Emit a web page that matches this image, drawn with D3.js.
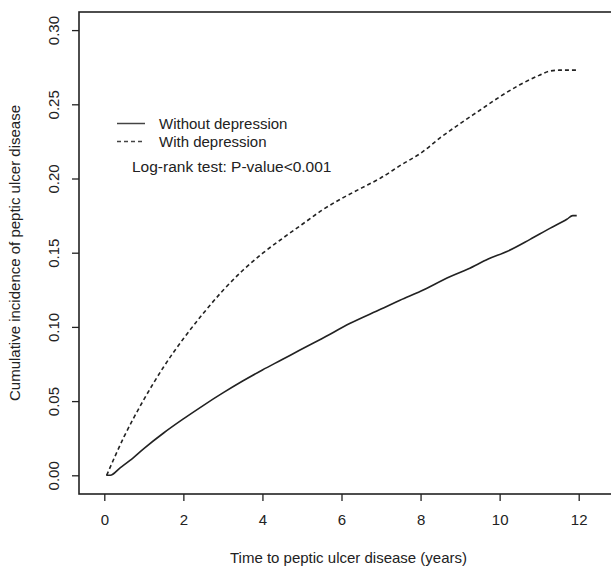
<!DOCTYPE html>
<html>
<head>
<meta charset="utf-8">
<script src="https://cdn.jsdelivr.net/npm/d3@7"></script>
<style>
  html, body { margin: 0; padding: 0; background: #fff; }
  svg { display: block; }
  text { font-family: "Liberation Sans", Arial, sans-serif; fill: #222; }
</style>
</head>
<body>
<svg id="chart" width="611" height="568"></svg>
<script>
// ---- data ----
const timeWithout = [0.05, 0.15, 0.4, 0.65, 1.0, 1.5, 2.0, 2.5, 3.0, 3.5, 4.0, 4.5, 4.95, 5.5, 6.22, 7.0, 7.48, 8.0, 8.74, 9.2, 9.71, 10.2, 10.77, 11.27, 11.7, 11.85, 11.95];
const valuesWithout = [0.000, 0.000, 0.005, 0.010, 0.018, 0.0285, 0.038, 0.047, 0.0555, 0.0635, 0.071, 0.078, 0.0844, 0.092, 0.1024, 0.112, 0.118, 0.124, 0.1338, 0.139, 0.1457, 0.151, 0.159, 0.1664, 0.1725, 0.175, 0.175];

const timeWith = [0.06, 0.5, 1.0, 1.5, 2.0, 2.5, 3.0, 3.5, 4.0, 4.5, 5.0, 5.5, 6.0, 6.5, 7.0, 7.5, 8.0, 8.5, 9.0, 9.5, 10.0, 10.5, 11.0, 11.27, 11.5, 11.95];
const valuesWith = [0.000, 0.026, 0.051, 0.073, 0.092, 0.109, 0.1245, 0.138, 0.1495, 0.1595, 0.169, 0.1785, 0.1865, 0.1935, 0.2005, 0.209, 0.217, 0.2275, 0.237, 0.246, 0.255, 0.263, 0.2695, 0.2724, 0.273, 0.273];

const xTicks = [0, 2, 4, 6, 8, 10, 12];
const yTicks = [0.00, 0.05, 0.10, 0.15, 0.20, 0.25, 0.30];
const yTickLabels = ["0.00", "0.05", "0.10", "0.15", "0.20", "0.25", "0.30"];
const seriesNames = ["Without depression", "With depression"];
const xTitle = "Time to peptic ulcer disease (years)";
const yTitle = "Cumulative incidence of peptic ulcer disease";
const testLabel = "Log-rank test: P-value<0.001";

// ---- layout ----
const svg = d3.select("#chart");
const box = { left: 79, top: 12, right: 618, bottom: 494 };
const x = d3.scaleLinear().domain([0, 12]).range([104.3, 578.7]);
const y = d3.scaleLinear().domain([0, 0.30]).range([475.3, 30.1]);
const ink = "#222";
const fs = 15;

// frame
svg.append("rect")
  .attr("x", box.left).attr("y", box.top)
  .attr("width", box.right - box.left).attr("height", box.bottom - box.top)
  .attr("fill", "none").attr("stroke", ink).attr("stroke-width", 1.6);

// x axis
const xAxis = d3.axisBottom(x).tickValues(xTicks).tickSize(7).tickPadding(13).tickFormat(d3.format("d"));
const gx = svg.append("g").attr("transform", `translate(0,${box.bottom})`).call(xAxis);
gx.select(".domain").remove();
gx.selectAll("line").attr("stroke", ink).attr("stroke-width", 1.3);
gx.selectAll("text").attr("font-size", fs).style("font-family", "Liberation Sans, Arial, sans-serif").attr("fill", ink);

// y axis
const yAxis = d3.axisLeft(y).tickValues(yTicks).tickSize(7).tickFormat((d, i) => yTickLabels[i]);
const gy = svg.append("g").attr("transform", `translate(${box.left},0)`).call(yAxis);
gy.select(".domain").remove();
gy.selectAll("line").attr("stroke", ink).attr("stroke-width", 1.3);
gy.selectAll("text")
  .attr("font-size", fs)
  .style("font-family", "Liberation Sans, Arial, sans-serif")
  .attr("fill", ink)
  .attr("x", 0).attr("dy", null).attr("y", 0)
  .attr("text-anchor", "middle")
  .attr("transform", "translate(-20,0) rotate(-90)");

// titles
svg.append("text").attr("x", (box.left + box.right) / 2).attr("y", 563)
  .attr("text-anchor", "middle").attr("font-size", fs).text(xTitle);
svg.append("text")
  .attr("transform", `translate(20,${(box.top + box.bottom) / 2}) rotate(-90)`)
  .attr("text-anchor", "middle").attr("font-size", fs).text(yTitle);

// curves
const line = d3.line().x(d => x(d[0])).y(d => y(d[1])).curve(d3.curveMonotoneX);

svg.append("path")
  .datum(timeWithout.map((t, i) => [t, valuesWithout[i]]))
  .attr("d", line).attr("fill", "none").attr("stroke", ink).attr("stroke-width", 1.6);

svg.append("path")
  .datum(timeWith.map((t, i) => [t, valuesWith[i]]))
  .attr("d", line).attr("fill", "none").attr("stroke", ink).attr("stroke-width", 1.6)
  .attr("stroke-dasharray", "4,3");

// legend
const legend = svg.append("g");
const legendRows = [
  { name: seriesNames[0], dash: null, ly: 123.5 },
  { name: seriesNames[1], dash: "4,3", ly: 141.5 }
];
legendRows.forEach(r => {
  legend.append("line").attr("x1", 117).attr("x2", 145).attr("y1", r.ly).attr("y2", r.ly)
    .attr("stroke", "#444").attr("stroke-width", 1.5).attr("stroke-dasharray", r.dash);
  legend.append("text").attr("x", 159).attr("y", r.ly + 5.5).attr("font-size", fs).text(r.name);
});
legend.append("text").attr("x", 132).attr("y", 172).attr("font-size", 15.5).text(testLabel);
</script>
</body>
</html>
